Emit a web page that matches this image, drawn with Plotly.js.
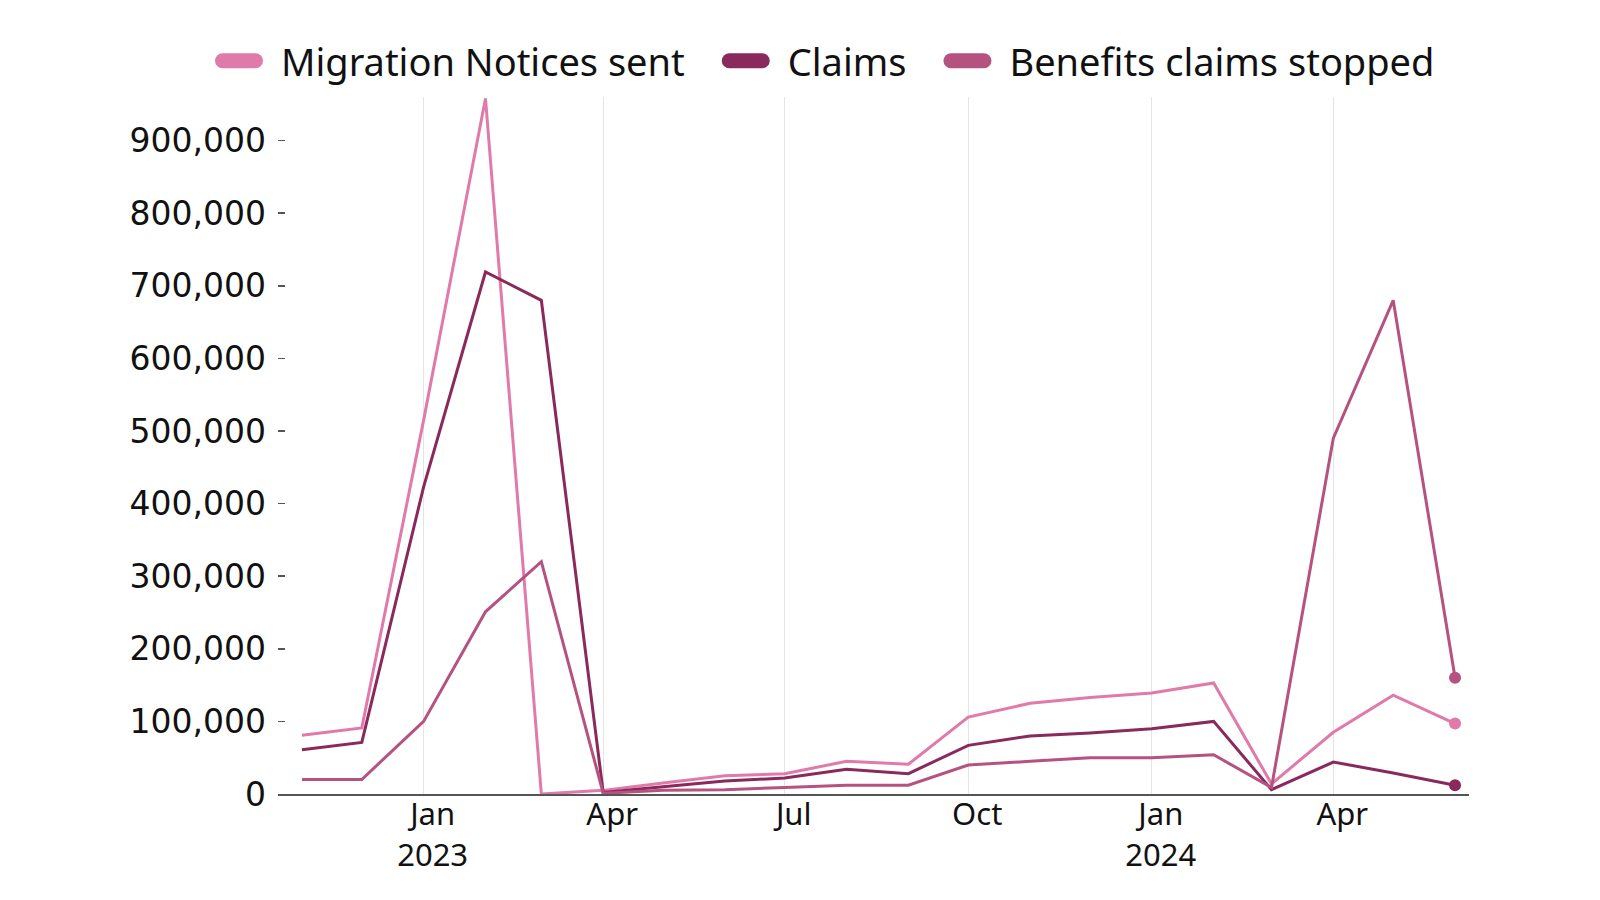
<!DOCTYPE html>
<html>
<head>
<meta charset="utf-8">
<script src="https://cdn.plot.ly/plotly-3.0.1.min.js"></script>
<style>html,body{margin:0;padding:0;background:#fff;}#chart{width:1600px;height:900px;}</style>
</head>
<body>
<div id="chart"></div>
<script>
// Months (first day of each month)
const months = ['2022-11-01','2022-12-01','2023-01-01','2023-02-01','2023-03-01','2023-04-01','2023-05-01','2023-06-01','2023-07-01','2023-08-01','2023-09-01','2023-10-01','2023-11-01','2023-12-01','2024-01-01','2024-02-01','2024-03-01','2024-04-01','2024-05-01','2024-06-01'];

const migrationNotices = [81000, 91000, 515000, 958000, 0, 5000, 15000, 25000, 28000, 45000, 41000, 106000, 125000, 133000, 139000, 153000, 14000, 85000, 136000, 97000];
const claims = [61000, 71000, 423000, 719000, 680000, 2000, 10000, 18000, 22000, 34000, 28000, 67000, 80000, 84000, 90000, 100000, 6000, 44000, 29000, 12000];
const benefitsStopped = [20000, 20000, 100000, 251000, 320000, 1000, 5000, 6000, 9000, 12000, 12000, 40000, 45000, 50000, 50000, 54000, 9000, 490000, 680000, 160000];

const seriesNames = ['Migration Notices sent', 'Claims', 'Benefits claims stopped'];
const seriesColors = ['#e07aaa', '#8a295c', '#b5527f'];

const xTickVals = ['2023-01-01','2023-04-01','2023-07-01','2023-10-01','2024-01-01','2024-04-01'];
const xTickText = ['Jan<br>2023','Apr','Jul','Oct','Jan<br>2024','Apr'];
const yTickVals = [0,100000,200000,300000,400000,500000,600000,700000,800000,900000];

const seriesData = [migrationNotices, claims, benefitsStopped];
const last = months.length - 1;

const traces = [];
seriesData.forEach((vals, i) => {
  traces.push({
    type: 'scatter', mode: 'lines', name: seriesNames[i],
    x: months, y: vals,
    line: {color: seriesColors[i], width: 3},
    hoverinfo: 'skip'
  });
});
seriesData.forEach((vals, i) => {
  traces.push({
    type: 'scatter', mode: 'markers', showlegend: false,
    x: [months[last]], y: [vals[last]],
    marker: {color: seriesColors[i], size: 12},
    cliponaxis: false, hoverinfo: 'skip'
  });
});

const ML = 278, MT = 97, PW = 1600 - 278 - 131, PH = 900 - 97 - 106;
const ITEMW = 88;

const layout = {
  width: 1600, height: 900,
  margin: {l: ML, r: 131, t: MT, b: 106, autoexpand: false},
  paper_bgcolor: '#ffffff', plot_bgcolor: '#ffffff',
  showlegend: true,
  legend: {
    orientation: 'h', xref: 'paper', yref: 'paper',
    x: (281 - ITEMW - 10 - ML) / PW, y: 1 + (MT - 61) / PH,
    xanchor: 'left', yanchor: 'middle',
    itemwidth: ITEMW,
    font: {family: 'Noto Sans', size: 38, color: '#111111'},
    bgcolor: 'rgba(0,0,0,0)'
  },
  xaxis: {
    type: 'date',
    range: ['2022-10-20', '2024-06-08'],
    tickvals: xTickVals, ticktext: xTickText,
    showgrid: true, gridcolor: '#e4e4e4', gridwidth: 1,
    showline: true, linecolor: '#555555', linewidth: 2,
    zeroline: false, ticks: '',
    ticklabelshift: 9, ticklabelstandoff: -8,
    tickfont: {family: 'Noto Sans', size: 31, color: '#111111'}
  },
  yaxis: {
    range: [0, 960000],
    tickvals: yTickVals, tickformat: ',d',
    showgrid: false, zeroline: false, showline: false,
    ticks: 'inside', ticklen: 7, tickwidth: 1.5, tickcolor: '#555555',
    ticklabelstandoff: 11,
    tickfont: {family: 'DejaVu Sans', size: 33, color: '#111111'}
  },
  hovermode: false
};

Plotly.newPlot('chart', traces, layout, {displayModeBar: false, staticPlot: true}).then(gd => {
  // Pill-shaped legend symbols
  gd.querySelectorAll('.legend .traces').forEach(g => {
    const text = g.querySelector('text.legendtext');
    const pts = g.querySelector('.legendpoints');
    const path = g.querySelector('.legendlines path');
    if (!text || !pts || !path) return;
    const offset = pts.getCTM().e - g.getCTM().e;
    const tx = parseFloat(text.getAttribute('x')) || 0;
    const start = tx - 66 + 7.5 - offset;
    path.setAttribute('d', 'M' + start + ',0h33');
    path.style.strokeWidth = '15px';
    path.style.strokeLinecap = 'round';
  });
});
</script>
</body>
</html>
